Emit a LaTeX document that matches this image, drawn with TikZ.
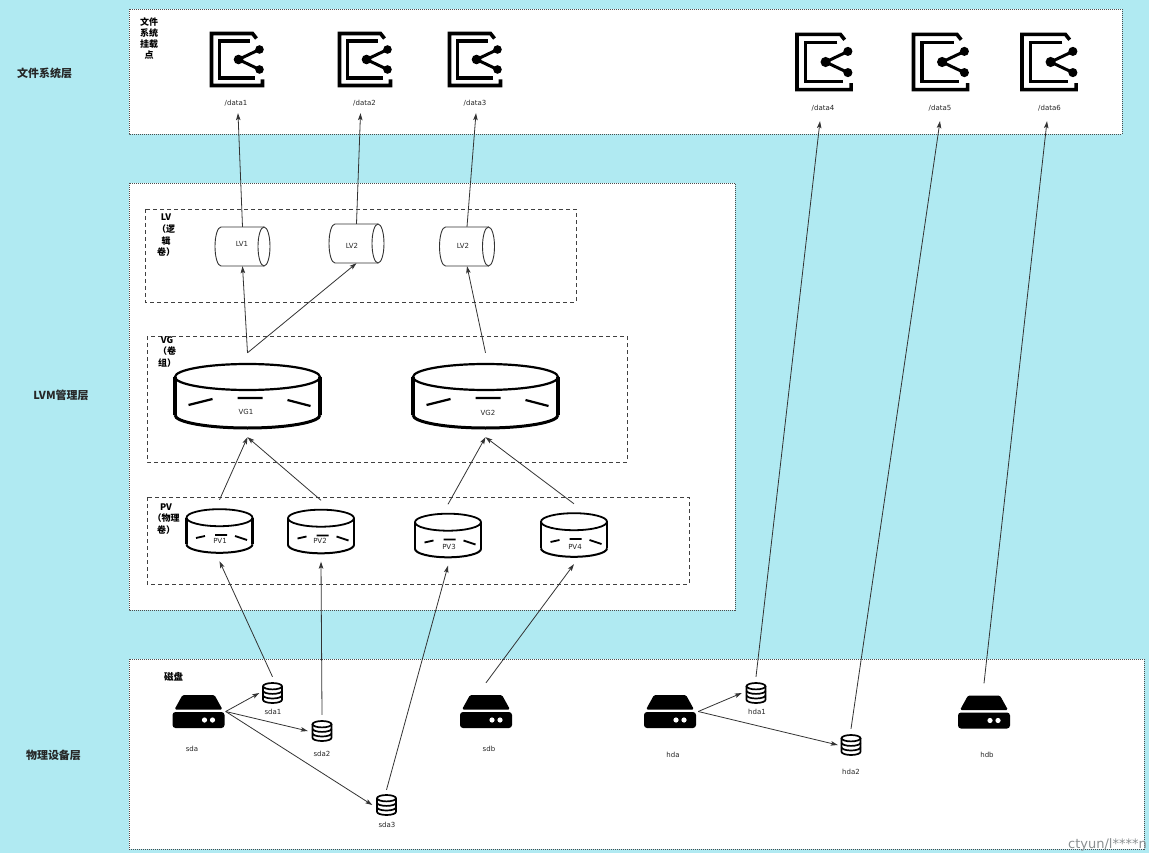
\documentclass[tikz,border=0pt]{standalone}
\usepackage{fontspec}
\setmainfont{DejaVu Sans}
\newfontfamily\cjk{Noto Sans CJK SC}
\usetikzlibrary{arrows.meta,calc}
\definecolor{bgc}{HTML}{B0EAF2}
\definecolor{wmc}{HTML}{8A8F91}
\tikzset{
  panel/.style={draw=black!70, fill=white, line width=0.8pt, dash pattern=on 1pt off 1pt},
  grp/.style={draw=black!75, line width=0.9pt, dash pattern=on 4pt off 3pt},
  arr/.style={draw=black!80, line width=0.8pt, -{Stealth[length=7pt,width=4.5pt,inset=1.5pt]}},
  dk/.style={draw=black},
  cylline/.style={draw=black!80, line width=0.9pt},
  lbl/.style={font=\fontsize{7}{8}\selectfont, text=black!85, inner sep=0pt},
  layer/.style={font=\cjk\bfseries\fontsize{11}{13}\selectfont, text=black!85, inner sep=0pt},
  grplabel/.style={font=\cjk\bfseries\fontsize{9}{11.5}\selectfont, align=center, inner sep=0pt},
  srv/.style={minimum width=52pt, minimum height=33pt, inner sep=0pt},
  dbn/.style={minimum width=22pt, minimum height=20pt, inner sep=0pt},
  pvbox/.style={minimum width=67pt, minimum height=44pt, inner sep=0pt},
  vgbox/.style={minimum width=145pt, minimum height=66pt, inner sep=0pt},
  cylbox/.style={minimum width=55pt, minimum height=39pt, inner sep=0pt},
  pics/fsicon/.style={code={
    \draw[line width=3.6pt] (20,-21) -- (16,-26) -- (-25,-26) -- (-25,26) -- (26,26) -- (26,20);
    \draw[line width=3.2pt] (13,-18.5) -- (-17,-18.5) -- (-17,18.5) -- (18,18.5);
    \draw[line width=3pt] (23,-10) -- (2,0) -- (23,10);
    \fill (2,0) circle[radius=4.8] (23,-10) circle[radius=4.3] (23,10) circle[radius=4.3];
  }},
  pics/server/.style={code={
    \fill[rounded corners=1.5pt] (-16,-16.5) -- (16,-16.5) -- (24,-2) -- (-24,-2) -- cycle;
    \fill[rounded corners=3pt] (-26,0.5) rectangle (26,16.5);
    \fill[white] (6,8.5) circle[radius=2.6] (14,8.5) circle[radius=2.6];
  }},
  pics/db/.style={code={
    \draw[line width=1.7pt] (0,-6.8) ellipse[x radius=9.5,y radius=3.2];
    \draw[line width=1.7pt] (-9.5,-6.8) -- (-9.5,6.8) arc[start angle=180,end angle=0,x radius=9.5,y radius=3.2] -- (9.5,-6.8);
    \draw[line width=1.7pt] (-9.5,-2.3) arc[start angle=180,end angle=0,x radius=9.5,y radius=3.2];
    \draw[line width=1.7pt] (-9.5,2.3) arc[start angle=180,end angle=0,x radius=9.5,y radius=3.2];
  }}
}
\newcommand\LVCyl[3]{%
  \node[cylbox] (#1) at (#2,#3) {};
  \draw[cylline] (#2+21.5,#3-19.5) -- (#2-21.5,#3-19.5) arc[start angle=270,end angle=90,x radius=6,y radius=19.5] -- (#2+21.5,#3+19.5);
  \draw[cylline] (#2+21.5,#3) ellipse[x radius=6,y radius=19.5];
}
\newcommand\VGdisk[3]{%
  \node[vgbox] (#1) at (#2,#3) {};
  \begin{scope}[shift={(#2,#3)}]
    \draw[dk, line width=2.2pt] (0,-18) ellipse[x radius=72.5,y radius=13];
    \draw[dk, line width=4.5pt] (-72.5,-18) -- (-72.5,20);
    \draw[dk, line width=4pt] (72.5,-18) -- (72.5,20);
    \draw[dk, line width=3pt] (-72.5,20) arc[start angle=180,end angle=0,x radius=72.5,y radius=13];
    \draw[dk, line width=2.2pt] (-59,10)--(-35,4) (-10,3)--(15,3) (40,5)--(63,11);
  \end{scope}
}
\newcommand\PVdisk[3]{%
  \node[pvbox] (#1) at (#2,#3) {};
  \begin{scope}[shift={(#2,#3)}]
    \draw[dk, line width=1.8pt] (0,-13.3) ellipse[x radius=33,y radius=8.5];
    \draw[dk, line width=2.6pt] (-33,-13.3) -- (-33,13.3) (33,-13.3) -- (33,13.3);
    \draw[dk, line width=2pt] (-33,13.3) arc[start angle=180,end angle=0,x radius=33,y radius=8.5];
    \draw[dk, line width=1.8pt] (-23.5,7)--(-14.5,5) (-4.5,4)--(7.5,4) (15.5,5)--(27.5,9);
  \end{scope}
}
\begin{document}
\begin{tikzpicture}[x=1pt,y=-1pt]
\useasboundingbox[fill=bgc] (0,0) rectangle (1149,853);

% panels
\draw[panel] (129,9) rectangle (1122,134);
\draw[panel] (129,183) rectangle (735,610);
\draw[panel] (129,659) rectangle (1144,849);

% groups
\draw[grp] (145,209) rectangle (576,302);
\draw[grp] (147,336) rectangle (627,462);
\draw[grp] (147,497) rectangle (689,584);

% layer labels
\node[layer] (L1) at (44.5,73) {文件系统层};
\node[layer] (L2) at (61,395) {LVM管理层};
\node[layer] (L3) at (53.5,755) {物理设备层};

% group labels
\node[grplabel, font=\cjk\bfseries\fontsize{9}{11}\selectfont] (fsl) at (149,38.5) {文件\\系统\\挂载\\点};
\node[grplabel, font=\cjk\bfseries\fontsize{9}{11.7}\selectfont] (lvl) at (166,235.5) {LV\\（逻\\辑\\卷）};
\node[grplabel] (vgl) at (167,352) {VG\\（卷\\组）};
\node[grplabel] (pvl) at (166,519) {PV\\（物理\\卷）};
\node[grplabel, font=\cjk\bfseries\fontsize{9.5}{11}\selectfont] (dkl) at (173.5,677) {磁盘};

% file system icons
\pic at (236.5,59.5) {fsicon};
\pic at (364.5,59.5) {fsicon};
\pic at (474.5,59.5) {fsicon};
\pic[scale=1.06] at (823.5,62) {fsicon};
\pic[scale=1.06] at (940,62) {fsicon};
\pic[scale=1.06] at (1048.5,62) {fsicon};
\node[lbl] (d1) at (236,103) {/data1};
\node[lbl] (d2) at (364.5,103) {/data2};
\node[lbl] (d3) at (475,103) {/data3};
\node[lbl] (d4) at (823,108) {/data4};
\node[lbl] (d5) at (940,108) {/data5};
\node[lbl] (d6) at (1049.5,108) {/data6};

% LVs
\LVCyl{LV1}{242.5}{246.5}
\LVCyl{LV2}{356.5}{243.5}
\LVCyl{LV3}{467}{246.5}
\node[lbl] at (242,244) {LV1};
\node[lbl] at (352,246) {LV2};
\node[lbl] at (463,246) {LV2};

% VGs
\VGdisk{VG1}{247.5}{395}
\VGdisk{VG2}{485.5}{395}
\node[lbl] at (246,412) {VG1};
\node[lbl] at (488,413) {VG2};

% PVs
\PVdisk{PV1}{219.5}{531}
\PVdisk{PV2}{321}{531.5}
\PVdisk{PV3}{448}{535.5}
\PVdisk{PV4}{574}{535}
\node[lbl] at (220,541) {PV1};
\node[lbl] at (320,541) {PV2};
\node[lbl] at (449,547) {PV3};
\node[lbl] at (575,547) {PV4};

% devices
\node[srv] (sda) at (198.5,711.5) {}; \pic at (sda) {server};
\node[srv] (sdb) at (486,711.5) {};   \pic at (sdb) {server};
\node[srv] (hda) at (670,711.5) {};   \pic at (hda) {server};
\node[srv] (hdb) at (984,712) {};     \pic at (hdb) {server};
\node[lbl] at (192,749) {sda};
\node[lbl] at (489,749) {sdb};
\node[lbl] at (673,755) {hda};
\node[lbl] at (987,755) {hdb};

\node[dbn] (sda1) at (272.5,693) {}; \pic at (sda1) {db};
\node[dbn] (sda2) at (322,731) {};   \pic at (sda2) {db};
\node[dbn] (sda3) at (386.5,805) {}; \pic at (sda3) {db};
\node[dbn] (hda1) at (756,693) {};   \pic at (hda1) {db};
\node[dbn] (hda2) at (851,745) {};   \pic at (hda2) {db};
\node[lbl] at (273,712) {sda1};
\node[lbl] at (322,754) {sda2};
\node[lbl] at (387,825) {sda3};
\node[lbl] at (757,712) {hda1};
\node[lbl] at (851,772) {hda2};

% connectors
\draw[arr] ([xshift=1pt]sda.east) -- ([xshift=-2pt]sda1.west);
\draw[arr] ([xshift=1pt]sda.east) -- ([xshift=-3pt]sda2.west);
\draw[arr] ([xshift=1pt]sda.east) -- ([xshift=-3pt]sda3.west);
\draw[arr] ([xshift=2pt]hda.east) -- ([xshift=-3pt]hda1.west);
\draw[arr] ([xshift=2pt]hda.east) -- ([xshift=-2pt]hda2.west);

\draw[arr] ([yshift=6pt]sda1.north) -- ([yshift=-8pt]PV1.south);
\draw[arr] ([yshift=6pt]sda2.north) -- ([yshift=-8pt]PV2.south);
\draw[arr] ([yshift=5pt]sda3.north) -- ([yshift=-8pt]PV3.south);
\draw[arr] ([yshift=12pt]sdb.north) -- ([yshift=-7pt]PV4.south);

\draw[arr] ([yshift=9pt]PV1.north) -- ([yshift=-9pt]VG1.south);
\draw[arr] ([yshift=9pt]PV2.north) -- ([yshift=-9pt]VG1.south);
\draw[arr] ([yshift=9pt]PV3.north) -- ([yshift=-9pt]VG2.south);
\draw[arr] ([yshift=9pt]PV4.north) -- ([yshift=-9pt]VG2.south);

\draw[arr] ([yshift=9pt]VG1.north) -- (LV1.south);
\draw[arr] ([yshift=9pt]VG1.north) -- (LV2.south);
\draw[arr] ([yshift=9pt]VG2.north) -- (LV3.south);

\draw[arr] (LV1.north) -- ([xshift=2pt,yshift=-7pt]d1.south);
\draw[arr] (LV2.north) -- ([xshift=-4pt,yshift=-7pt]d2.south);
\draw[arr] (LV3.north) -- ([xshift=1pt,yshift=-7pt]d3.south);

\draw[arr] ([yshift=6pt]hda1.north) -- ([xshift=-3pt,yshift=-10pt]d4.south);
\draw[arr] ([yshift=6pt]hda2.north) -- ([yshift=-10pt]d5.south);
\draw[arr] ([yshift=12pt]hdb.north) -- ([xshift=-2.5pt,yshift=-10pt]d6.south);

% watermark
\node[font=\fontsize{13}{14}\selectfont, text=wmc, inner sep=0pt, anchor=base east] (wm) at (1147,848) {ctyun/l****n};
\end{tikzpicture}
\end{document}
